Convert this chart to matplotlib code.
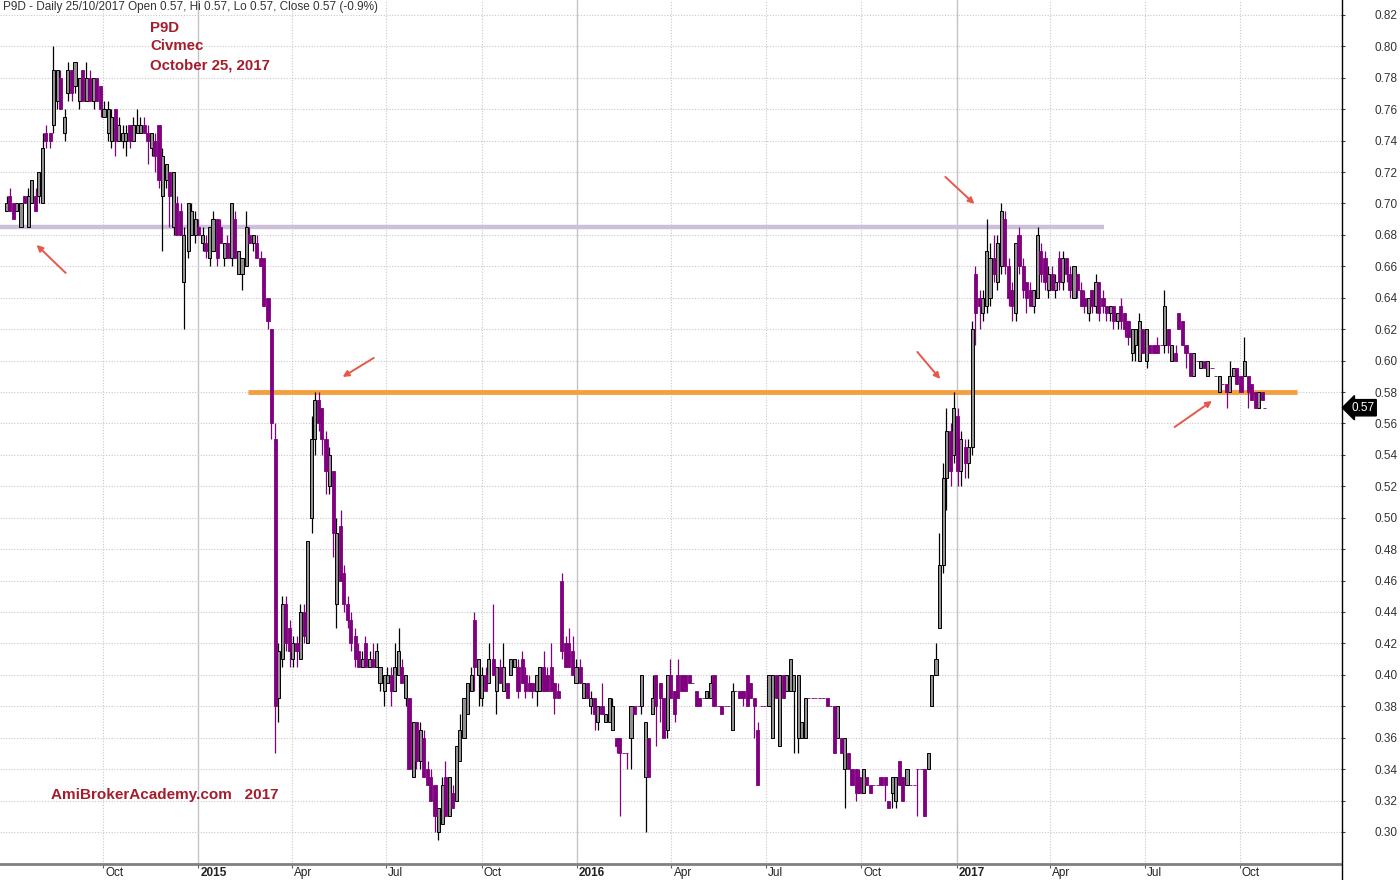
import numpy as np
import pandas as pd
import matplotlib
matplotlib.use('Agg')
import matplotlib.pyplot as plt
import matplotlib.dates as mdates
import matplotlib.transforms as mtransforms
from matplotlib.lines import Line2D

plt.rcParams['font.family'] = ['Liberation Sans', 'DejaVu Sans']

# P9D (Civmec) price bars, two per week (Mon / Thu), values in cents: (open, high, low, close)
bars_2014 = [
    (69.5, 70.5, 69.5, 70), (70.5, 71, 69.5, 69.5), (70, 70, 69, 69), (69.5, 70, 69.5, 70),
    (68.5, 70, 68.5, 70), (70.5, 70.5, 70, 70), (68.5, 71, 68.5, 70.5), (70, 71.5, 70, 71.5),
    (70.5, 71, 69.5, 69.5), (70.5, 72, 70, 72), (70, 74.5, 70, 73.5), (74.5, 75, 73.5, 74),
    (74.5, 74.5, 73.5, 74), (75, 80, 74.5, 78.5), (76.5, 78.5, 76, 78.5), (78, 78.5, 76, 76),
    (74.5, 76, 74, 75.5), (77, 79, 76.5, 78.5), (78.5, 78.5, 76.5, 77), (77.5, 79, 77, 79),
    (76.5, 78, 76, 78), (78.5, 78.5, 76.5, 76.5), (76.5, 79, 76.5, 78), (78, 78.5, 76.5, 76.5),
    (76.5, 78, 76, 78), (78, 78, 76.5, 76.5), (77.5, 77.5, 75.5, 76), (75.5, 76.5, 75.5, 76),
    (74.5, 76.5, 74, 76), (74, 76, 73.5, 75.5), (76, 76, 73, 74), (74, 75.5, 74, 75),
    (74, 75, 73.5, 74.5), (74, 75, 73, 74.5), (75, 75, 73.5, 74), (74, 75.5, 74, 75),
    (74.5, 76, 74.5, 75), (74.5, 75.5, 74.5, 75), (75, 75.5, 74.5, 74.5), (74.5, 75, 72.5, 74),
    (73.5, 74.5, 73, 74.5), (74, 74.5, 72, 73), (75, 75, 71, 71.5), (70.5, 73.5, 67, 73),
    (71.5, 72.5, 71, 72.5), (72, 72, 68.5, 70.5), (68.5, 72, 68, 72), (70, 70.5, 68, 68),
    (69.5, 70, 68, 68), (65, 68.5, 62, 68), (67, 70, 66.5, 70), (68, 70, 68, 69.5),
]
bars_2015 = [
    (68, 69.5, 67.5, 69), (68.5, 69, 68, 68), (67.5, 68.5, 67, 68), (67.5, 68, 66.5, 67),
    (66.5, 68.5, 66, 68.5), (67, 69.5, 67, 69), (69, 69, 66, 66.5), (68.5, 69, 67.5, 67.5),
    (66.5, 67.5, 66, 67.5), (67.5, 68, 66.5, 66.5), (66.5, 70, 66, 70), (69, 69.5, 66.5, 66.5),
    (65.5, 67, 65.5, 67), (65.5, 66.5, 64.5, 66.5), (66, 69.5, 66, 68.5), (68, 68.5, 67.5, 67.5),
    (67.5, 68, 67, 68), (67.5, 68, 66.5, 66.5), (66.5, 67, 66, 66), (66.5, 66.5, 63.5, 63.5),
    (64, 64, 62, 62.5), (62, 62, 55, 56), (55, 56, 35, 38), (38.5, 42, 37, 41.5),
    (41, 45, 40.5, 44.5), (44.5, 45, 41.5, 42), (43, 43.5, 40.5, 41.5), (41, 42.5, 40.5, 42),
    (42, 42.5, 40.5, 41.5), (41, 44.5, 41, 44), (44, 44.5, 42, 42.5), (42, 48.5, 42, 48.5),
    (50, 56.5, 49, 55), (55, 58, 54, 57.5), (57.5, 58, 55.5, 56), (57, 57, 54, 55),
    (55, 55.5, 51.5, 53), (52, 54.5, 51.5, 54), (53, 53, 47.5, 49), (44.5, 50, 43, 49),
    (49.5, 50.5, 46, 46), (46.5, 47, 44, 44.5), (44.5, 45, 43, 43.5), (43.5, 44, 41.5, 42),
    (42.5, 43, 40.5, 41), (41.5, 42, 40.5, 40.5), (40.5, 41.5, 40.5, 41), (42, 42.5, 40.5, 40.5),
    (40.5, 41.5, 40.5, 41), (41, 42, 40.5, 40.5), (40.5, 42, 40.5, 41.5), (39.5, 40.5, 39, 40.5),
    (39, 40, 38, 40), (39.5, 40.5, 39.5, 40), (40, 40.5, 38, 39), (39, 42, 39, 40.5),
    (40, 43, 40, 41.5), (40.5, 41, 39.5, 39.5), (38.5, 40, 38, 40), (38.5, 38.5, 34, 34),
    (33.5, 37, 33.5, 37), (37, 37, 34, 34.5), (34.5, 37, 34, 36.5), (36, 36.5, 33.5, 33.5),
    (34, 34.5, 33, 33), (33.5, 34, 32, 32), (33, 33, 30, 31), (30, 31.5, 29.5, 31.5),
    (30.5, 33.5, 30.5, 33), (33.5, 34.5, 31, 31), (31, 33.5, 31, 33.5), (32.5, 33, 31.5, 31.5),
    (32, 35.5, 32, 35.5), (34.5, 37.5, 34.5, 36.5), (36, 38.5, 36, 38.5), (37.5, 39.5, 37.5, 39.5),
    (39, 40.5, 39, 40), (43.5, 44, 39, 40.5), (40, 41, 38, 41), (38.5, 40.5, 38, 40),
    (40, 40.5, 39, 39), (39.5, 42, 39.5, 41), (41, 44.5, 40, 40), (39, 40.5, 37.5, 40.5),
    (40.5, 41, 39.5, 39.5), (39, 42, 39, 40.5), (39.5, 39.5, 38.5, 38.5), (40, 41, 40, 41),
    (40.5, 41, 40.5, 41), (40.5, 41, 38.5, 39), (41, 41.5, 39.5, 39.5), (40, 40.5, 38.5, 39),
    (39.5, 40, 39, 39), (39.5, 39.5, 38.5, 39), (39, 40, 38, 40), (39, 40.5, 39, 40.5),
    (40.5, 41.5, 39, 39), (40, 40.5, 39, 39), (40.5, 42, 39, 39), (39.5, 39.5, 37.5, 38.5),
    (39, 39.5, 38.5, 38.5), (46, 46.5, 41, 41.5), (42, 42.5, 40.5, 40.5), (42, 43, 40.5, 40.5),
]
bars_2016 = [
    (41.5, 42.5, 40, 40), (39.5, 41, 39.5, 40.5), (40.5, 41, 39.5, 39.5), (38.5, 39.5, 38.5, 39.5),
    (39.5, 39.5, 38.5, 38.5), (38, 39, 37.5, 38.5), (38.5, 38.5, 36.5, 37.5), (37, 38, 36.5, 38),
    (38, 39.5, 37.5, 37.5), (37, 37.5, 37, 37.5), (37, 38.5, 37, 38.5), (36.5, 38.5, 36.5, 38),
    (36, 36, 35, 35.5), (36, 36, 31, 35), (35, 35, 35, 35), (35, 35, 34, 35),
    (36, 38, 34, 38), (38, 38, 37.5, 37.5), (38, 38, 38, 38), (38, 40, 37.5, 40),
    (33.5, 37, 30, 37), (36, 36, 33.5, 33.5), (37.5, 40, 37.5, 38.5), (40, 40, 35.5, 38),
    (39.5, 39.5, 37, 38.5), (38.5, 38.5, 36, 36), (36.5, 40, 36, 40), (40, 41, 38.5, 38.5),
    (39, 39, 37, 37.5), (40, 41, 38.5, 38.5), (40, 40, 39, 39), (40, 40, 39, 39),
    (40, 40, 39.5, 39.5), (39.5, 39.5, 39.5, 39.5), (39, 39, 38, 38), (38.5, 38.5, 38, 38),
    (38.5, 38.5, 38.5, 38.5), (38.5, 39, 38.5, 39), (38.5, 40, 38.5, 39.5), (40, 40, 38, 38),
    (38, 38, 38, 38), (38, 38, 37.5, 37.5), (38, 38, 38, 38), (38, 38, 38, 38),
    (36.5, 39.5, 36.5, 39), (39, 39, 39, 39), (39, 39, 38.5, 38.5), (39, 39, 38, 38.5),
    (40, 40, 38, 38), (39.5, 39.5, 38.5, 38.5), (38.5, 38.5, 36, 38), (36.5, 37, 33, 33),
    (38, 38, 38, 38), (38, 38, 38, 38), (38, 40, 38, 40), (36, 40, 36, 40),
    (40, 40, 38.5, 38.5), (35.5, 40, 35.5, 40), (40, 40, 38.5, 38.5), (39, 40, 39, 40),
    (39, 41, 39, 41), (39, 40, 35, 40), (36, 40, 35, 40), (36, 37, 36, 37),
    (36, 38.5, 36, 38.5), (38.5, 38.5, 38.5, 38.5), (38.5, 38.5, 38.5, 38.5), (38.5, 38.5, 38.5, 38.5),
    (38.5, 38.5, 38.5, 38.5), (38.5, 38.5, 38.5, 38.5), (38.5, 38.5, 38, 38), (38, 38, 38, 38),
    (38, 38, 35, 35), (36, 38, 36, 38), (36, 36, 35, 35), (34, 36, 31.5, 36),
    (35, 35, 34, 34), (34, 34, 33, 33), (34, 34, 32, 32.5), (33.5, 34, 32.5, 32.5),
    (32.5, 34, 32.5, 34), (33.5, 33.5, 33, 33), (33, 33, 32.5, 32.5), (33, 33, 33, 33),
    (33, 33, 33, 33), (33.5, 33.5, 33, 33), (33.5, 33.5, 32, 33), (32, 32, 31.5, 31.5),
    (32.5, 33.5, 31.5, 33.5), (32, 33.5, 31.5, 33.5), (34.5, 34.5, 33, 33), (33.5, 33.5, 32, 32),
    (33, 34, 33, 34), (33, 33, 33, 33), (33, 33, 33, 33), (34, 34, 31, 34),
    (34, 34, 34, 34), (34, 34, 31, 31), (34, 35, 34, 35), (38, 40, 38, 40),
    (40, 42, 40, 41), (43, 49, 43, 47), (47, 53.5, 46.5, 52.5), (52.5, 57, 50.5, 55.5),
]
bars_2017 = [
    (55.5, 56, 52, 53), (54, 58, 53.5, 57), (56.5, 57, 52, 53), (53, 55.5, 52, 55),
    (54.5, 55, 52.5, 53.5), (53.5, 55, 52.5, 54.5), (54.5, 62.5, 54, 62), (65.5, 66, 61, 63),
    (64, 64.5, 62, 63.5), (63, 64.5, 62.5, 64), (63.5, 69, 63, 67), (64, 67.5, 63.5, 66.5),
    (66.5, 68, 65, 65.5), (65, 68, 64.5, 67.5), (66, 70, 65.5, 69.5), (69, 69.5, 65.5, 66),
    (66, 66.5, 63.5, 64), (64.5, 65, 62.5, 63.5), (63, 67.5, 62.5, 67.5), (68, 68.5, 65.5, 66),
    (66, 66.5, 64, 64.5), (65, 65, 63, 64), (64.5, 65, 63.5, 63.5), (63.5, 64.5, 63, 64.5),
    (64, 68.5, 64, 68), (67, 67.5, 65, 65.5), (66.5, 67, 64.5, 65), (64.5, 66, 64, 65.5),
    (65.5, 66, 64.5, 64.5), (64.5, 65.5, 64, 65), (66.5, 67, 64.5, 65), (65, 67, 64.5, 66.5),
    (66.5, 66.5, 65, 65.5), (65.5, 66, 64, 64.5), (64, 66, 64, 66), (65.5, 65.5, 64, 64.5),
    (64.5, 65, 63.5, 63.5), (64, 64.5, 63, 63.5), (63, 64, 62.5, 64), (64.5, 64.5, 63, 63.5),
    (63.5, 65.5, 63, 65), (65, 65, 62.5, 63), (64, 64.5, 63, 63.5), (63.5, 63.5, 62.5, 63),
    (63, 63.5, 62.5, 63.5), (63.5, 63.5, 62, 62.5), (62.5, 63, 62, 63), (63.5, 64, 62, 62.5),
    (63, 63, 61.5, 62), (62.5, 62.5, 61, 61.5), (60.5, 62, 60, 62), (61, 62, 60, 62),
    (60, 63, 60, 62.5), (62, 62, 60.5, 60.5), (60, 62, 59.5, 62), (61, 61, 60.5, 60.5),
    (61, 61, 60.5, 60.5), (61, 61.5, 60.5, 60.5), (61, 61, 61, 61), (61, 64.5, 60.5, 63.5),
    (62, 62, 60.5, 61), (60, 61, 60, 61), (60.5, 61, 60, 60), (63, 63, 62, 62),
    (62.5, 62.5, 61, 61), (61, 61, 59.5, 60.5), (60.5, 60.5, 59, 59), (59, 60.5, 59, 60.5),
    (60, 60, 60, 60), (59.5, 60, 59.5, 60), (60, 60, 59.5, 59.5), (59, 60, 59, 60),
    (59.5, 59.5, 59.5, 59.5), (59, 59, 59, 59), (58, 59, 58, 59), (58.5, 58.5, 58.5, 58.5),
    (58.5, 58.5, 57, 58), (58, 60, 58, 59), (59, 59.5, 59, 59.5), (59.5, 59.5, 58.5, 58.5),
    (59, 59, 58, 58), (59, 61.5, 59, 60), (59, 59, 57, 58), (58.5, 58.5, 57.5, 57.5),
    (58, 58, 57, 57), (57, 58, 57, 58), (58, 58, 57.5, 57.5), (57, 57, 57, 57),
]

ohlc = np.array(bars_2014 + bars_2015 + bars_2016 + bars_2017) / 100.0
o, h, l, c = ohlc.T

start = pd.Timestamp('2014-06-30')
dates = [start + pd.Timedelta(days=7 * (i // 2) + 3 * (i % 2)) for i in range(len(ohlc))]
dates[-1] = pd.Timestamp('2017-10-25')
x = mdates.date2num(dates)

up = c > o
dn = ~up

fig = plt.figure(figsize=(14, 8.8), dpi=100)
ax = fig.add_axes([0, 16 / 880, 1341 / 1400, 864 / 880])

# screen scale: Oct 1 2014 sits at 103px, ~1.0374 px per calendar day
ref = pd.Timestamp('2014-10-01')
ax.set_xlim(mdates.date2num(ref - pd.Timedelta(days=103 / 1.0374)),
            mdates.date2num(ref + pd.Timedelta(days=(1341 - 103) / 1.0374)))
ax.set_ylim(0.2796, 0.8295)

# grid
yticks = np.round(np.arange(0.30, 0.821, 0.02), 2)
for yv in yticks:
    ax.axhline(yv, color='#c8c8c8', lw=0.8, ls=(0, (1, 1.5)), zorder=0)

month_ticks = ['2014-10-01', '2015-01-01', '2015-04-01', '2015-07-01', '2015-10-01',
               '2016-01-01', '2016-04-01', '2016-07-01', '2016-10-01', '2017-01-01',
               '2017-04-01', '2017-07-01', '2017-10-01']
month_labels = ['Oct', '2015', 'Apr', 'Jul', 'Oct', '2016', 'Apr', 'Jul', 'Oct', '2017',
                'Apr', 'Jul', 'Oct']
tick_x = mdates.date2num(pd.to_datetime(month_ticks))
for tx, lab in zip(tick_x, month_labels):
    if lab.isdigit():
        ax.axvline(tx, color='#c4c4c4', lw=1.0, zorder=0)
    else:
        ax.axvline(tx, color='#c8c8c8', lw=0.8, ls=(0, (1, 1.5)), zorder=0)

# support / resistance lines
ax.plot(mdates.date2num(pd.to_datetime(['2014-06-23', '2017-05-23'])), [0.685, 0.685],
        color='#cdbfdc', lw=3.2, solid_capstyle='butt', zorder=1)
ax.plot(mdates.date2num(pd.to_datetime(['2015-02-18', '2017-11-25'])), [0.58, 0.58],
        color='#f5a040', lw=3.5, solid_capstyle='butt', zorder=1)

# candles
ax.vlines(x[up], l[up], h[up], color='black', lw=0.9, zorder=2)
ax.vlines(x[dn], l[dn], h[dn], color='#800080', lw=0.9, zorder=2)
ax.bar(x[up], (c - o)[up], bottom=o[up], width=3.0, color='#909090',
       edgecolor='black', linewidth=0.7, zorder=3)
ax.bar(x[dn], (o - c)[dn], bottom=c[dn], width=3.0, color='#800080',
       edgecolor='#800080', linewidth=0.6, zorder=3)

# arrows
arrows = [
    (('2014-08-26', 0.6558), ('2014-07-29', 0.6736)),
    (('2015-06-19', 0.6017), ('2015-05-20', 0.5896)),
    (('2016-12-21', 0.7169), ('2017-01-18', 0.6997)),
    (('2016-11-24', 0.6055), ('2016-12-16', 0.5883)),
    (('2017-07-30', 0.5577), ('2017-09-04', 0.5743)),
]
for (t0, p0), (t1, p1) in arrows:
    ax.annotate('', xy=(mdates.date2num(pd.Timestamp(t1)), p1),
                xytext=(mdates.date2num(pd.Timestamp(t0)), p0),
                arrowprops=dict(arrowstyle='-|>', color='#e8584a', lw=1.4,
                                mutation_scale=9, shrinkA=0, shrinkB=0), zorder=4)

# axes styling
for side in ['left', 'top', 'right']:
    ax.spines[side].set_visible(False)
ax.spines['bottom'].set_color('#808080')
ax.spines['bottom'].set_linewidth(2)
ax.yaxis.tick_right()
ax.set_yticks(yticks)
ax.set_yticklabels(['%.2f' % v for v in yticks])
ax.tick_params(axis='y', length=3, width=0.8, color='#404040', pad=21,
               labelsize=8.5, labelcolor='#333333')
ax.set_xticks(tick_x)
ax.set_xticklabels(month_labels)
ax.tick_params(axis='x', length=3, width=0.8, color='#606060', pad=0,
               labelsize=8.5, labelcolor='#222222')
offset = mtransforms.ScaledTranslation(2 / 100, 1 / 100, fig.dpi_scale_trans)
for lab in ax.get_xticklabels():
    lab.set_ha('left')
    lab.set_transform(lab.get_transform() + offset)
    if lab.get_text().isdigit():
        lab.set_fontweight('bold')

fig.add_artist(Line2D([1341.5 / 1400, 1341.5 / 1400], [0, 1], color='black', lw=1.0))

# last price tag
tag_tr = mtransforms.blended_transform_factory(ax.transAxes, ax.transData)
ax.text(1.0 + 10 / 1341, c[-1], '%.2f' % c[-1], transform=tag_tr, ha='left', va='center',
        color='white', fontsize=8.5,
        bbox=dict(boxstyle='larrow,pad=0.18', fc='black', ec='black'))

# texts
fig.text(3 / 1400, 1 - 7 / 880,
         'P9D - Daily 25/10/2017 Open 0.57, Hi 0.57, Lo 0.57, Close 0.57 (-0.9%)',
         fontsize=8.5, color='#333333', va='center', ha='left')
red = '#a51d2d'
for txt, yp in [('P9D', 28), ('Civmec', 46), ('October 25, 2017', 65)]:
    fig.text(150 / 1400, 1 - yp / 880, txt, fontsize=10.8, fontweight='bold',
             color=red, va='center', ha='left')
fig.text(51 / 1400, 1 - 795 / 880, 'AmiBrokerAcademy.com   2017', fontsize=11,
         fontweight='bold', color=red, va='center', ha='left')

fig.savefig('out.png', dpi=100)
